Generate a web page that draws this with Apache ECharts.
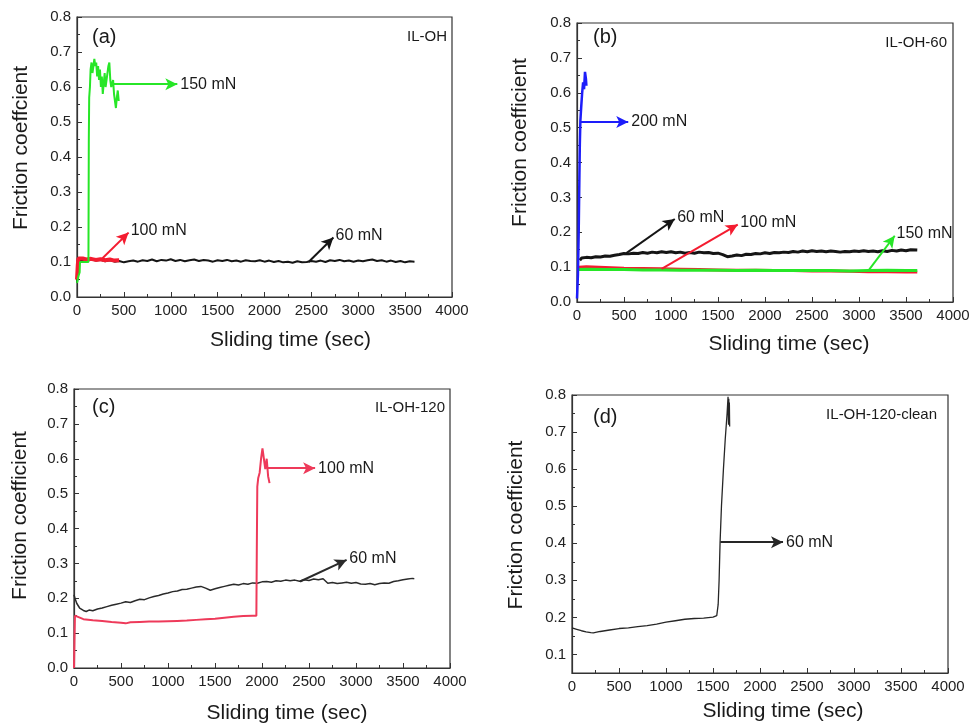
<!DOCTYPE html>
<html>
<head>
<meta charset="utf-8">
<title>Friction coefficient vs sliding time</title>
<script src="https://cdn.jsdelivr.net/npm/echarts@6/dist/echarts.min.js"></script>
<style>
  html, body { margin: 0; padding: 0; background: #ffffff; }
  #chart { width: 971px; height: 725px; }
</style>
</head>
<body>
<div id="chart"></div>
<script>
// ---------- measured friction traces: [sliding time (s), friction coefficient] ----------

// (a) IL-OH
const aBlack60 = [
  [0,0.04],[10,0.08],[20,0.1],[30,0.105],[50,0.106],[100,0.103],[150,0.107],[200,0.104],[250,0.106],
  [300,0.102],[350,0.105],[400,0.101],[450,0.103],[500,0.099],[550,0.102],[600,0.104],[650,0.101],
  [700,0.105],[750,0.103],[800,0.107],[850,0.102],[900,0.106],[950,0.104],[1000,0.108],[1050,0.103],
  [1100,0.106],[1150,0.102],[1200,0.105],[1250,0.107],[1300,0.103],[1350,0.106],[1400,0.104],
  [1450,0.101],[1500,0.105],[1550,0.103],[1600,0.106],[1650,0.102],[1700,0.104],[1750,0.101],
  [1800,0.105],[1850,0.103],[1900,0.102],[1950,0.105],[2000,0.101],[2050,0.104],[2100,0.1],
  [2150,0.103],[2200,0.099],[2250,0.101],[2300,0.098],[2350,0.102],[2400,0.099],[2450,0.1],
  [2500,0.103],[2550,0.101],[2600,0.104],[2650,0.1],[2700,0.105],[2750,0.103],[2800,0.106],
  [2850,0.102],[2900,0.104],[2950,0.101],[3000,0.104],[3050,0.102],[3100,0.105],[3150,0.107],
  [3200,0.103],[3250,0.105],[3300,0.101],[3350,0.104],[3400,0.1],[3450,0.103],[3500,0.099],
  [3550,0.102],[3600,0.101]
];
const aRed100 = [
  [0,0.05],[8,0.09],[15,0.11],[30,0.108],[60,0.11],[100,0.107],[150,0.109],[200,0.106],
  [250,0.108],[300,0.105],[350,0.107],[400,0.104],[450,0.105]
];
const aGreen150 = [
  [0,0.04],[15,0.06],[28,0.07],[32,0.1],[60,0.1],[100,0.1],[122,0.1],[126,0.45],[130,0.57],
  [138,0.6],[145,0.65],[155,0.67],[165,0.64],[175,0.66],[185,0.68],[195,0.66],[205,0.67],
  [215,0.63],[225,0.66],[235,0.62],[245,0.65],[255,0.6],[265,0.63],[275,0.58],[285,0.61],
  [295,0.64],[305,0.6],[315,0.62],[325,0.64],[335,0.66],[345,0.67],[355,0.62],[365,0.6],
  [375,0.61],[385,0.62],[395,0.58],[405,0.56],[415,0.54],[425,0.57],[435,0.59],[445,0.56]
];

// (b) IL-OH-60
const bBlack60 = [
  [30,0.12],[50,0.126],[100,0.128],[150,0.127],[200,0.13],[250,0.129],[300,0.132],[350,0.131],
  [400,0.134],[450,0.136],[500,0.139],[550,0.138],[600,0.14],[650,0.139],[700,0.142],[750,0.14],
  [800,0.143],[850,0.141],[900,0.144],[950,0.142],[1000,0.144],[1050,0.141],[1100,0.143],
  [1150,0.14],[1200,0.142],[1250,0.14],[1300,0.143],[1350,0.141],[1400,0.142],[1450,0.139],
  [1500,0.14],[1550,0.136],[1600,0.13],[1650,0.132],[1700,0.135],[1750,0.133],[1800,0.137],
  [1850,0.136],[1900,0.139],[1950,0.138],[2000,0.141],[2050,0.139],[2100,0.142],[2150,0.141],
  [2200,0.143],[2250,0.142],[2300,0.145],[2350,0.143],[2400,0.146],[2450,0.144],[2500,0.147],
  [2550,0.145],[2600,0.146],[2650,0.144],[2700,0.146],[2750,0.145],[2800,0.143],[2850,0.145],
  [2900,0.144],[2950,0.146],[3000,0.145],[3050,0.147],[3100,0.145],[3150,0.146],[3200,0.144],
  [3250,0.147],[3300,0.145],[3350,0.148],[3400,0.146],[3450,0.149],[3500,0.147],[3550,0.15],
  [3620,0.149]
];
const bRed100 = [
  [20,0.1],[100,0.101],[300,0.099],[500,0.097],[700,0.096],[900,0.095],[1100,0.094],[1300,0.093],
  [1500,0.092],[1700,0.091],[1900,0.091],[2100,0.09],[2300,0.09],[2500,0.089],[2700,0.089],
  [2900,0.088],[3100,0.087],[3300,0.087],[3500,0.086],[3620,0.086]
];
const bGreen150 = [
  [20,0.093],[100,0.094],[300,0.093],[500,0.093],[700,0.092],[900,0.092],[1100,0.091],[1300,0.091],
  [1500,0.091],[1700,0.09],[1900,0.091],[2100,0.09],[2300,0.09],[2500,0.09],[2700,0.09],
  [2900,0.089],[3100,0.09],[3300,0.091],[3500,0.09],[3620,0.09]
];
const bBlue200 = [
  [0,0.01],[10,0.08],[18,0.2],[25,0.35],[30,0.45],[36,0.52],[45,0.56],[55,0.6],[65,0.63],
  [75,0.61],[85,0.66],[95,0.64],[100,0.62]
];

// (c) IL-OH-120
const cBlack60 = [
  [0,0.21],[10,0.2],[30,0.185],[60,0.172],[100,0.165],[130,0.162],[160,0.166],[200,0.164],
  [250,0.169],[300,0.172],[350,0.176],[400,0.18],[450,0.183],[500,0.186],[550,0.19],[600,0.188],
  [650,0.193],[700,0.197],[750,0.196],[800,0.201],[850,0.205],[900,0.208],[950,0.212],[1000,0.215],
  [1050,0.219],[1100,0.221],[1150,0.225],[1200,0.226],[1250,0.229],[1300,0.232],[1350,0.234],
  [1400,0.229],[1450,0.223],[1500,0.227],[1550,0.231],[1600,0.234],[1650,0.237],[1700,0.24],
  [1750,0.238],[1800,0.242],[1850,0.24],[1900,0.244],[1950,0.243],[2000,0.247],[2050,0.248],
  [2100,0.246],[2150,0.25],[2200,0.249],[2250,0.252],[2300,0.25],[2350,0.252],[2400,0.249],
  [2450,0.253],[2500,0.251],[2550,0.255],[2600,0.253],[2650,0.256],[2700,0.243],[2750,0.245],
  [2800,0.242],[2850,0.244],[2900,0.246],[2950,0.243],[3000,0.245],[3050,0.241],[3100,0.24],
  [3150,0.242],[3200,0.239],[3250,0.242],[3300,0.244],[3350,0.243],[3400,0.248],[3450,0.25],
  [3500,0.253],[3550,0.255],[3600,0.257],[3620,0.256]
];
const cRed100 = [
  [0,0.0],[5,0.08],[10,0.15],[30,0.145],[100,0.14],[200,0.137],[300,0.135],[400,0.132],[500,0.13],
  [550,0.128],[600,0.131],[700,0.132],[800,0.133],[900,0.133],[1000,0.134],[1100,0.135],
  [1200,0.136],[1300,0.138],[1400,0.14],[1500,0.141],[1600,0.144],[1700,0.147],[1800,0.149],
  [1900,0.15],[1940,0.15],[1945,0.35],[1950,0.52],[1960,0.545],[1975,0.56],[1990,0.6],
  [2005,0.63],[2020,0.6],[2035,0.57],[2050,0.6],[2065,0.55],[2080,0.53]
];

// (d) IL-OH-120-clean
const dBlack60 = [
  [0,0.172],[50,0.168],[100,0.164],[150,0.161],[200,0.159],[227,0.158],[300,0.162],[400,0.166],
  [500,0.17],[600,0.172],[700,0.175],[800,0.178],[900,0.182],[1000,0.187],[1100,0.191],
  [1200,0.195],[1300,0.197],[1400,0.198],[1500,0.201],[1540,0.205],[1555,0.235],[1565,0.3],
  [1575,0.4],[1590,0.5],[1611,0.6],[1630,0.68],[1650,0.75],[1660,0.795],[1665,0.72],
  [1668,0.79],[1671,0.73],[1674,0.78],[1677,0.715]
];

// axis ticks
const xTicks = [0, 500, 1000, 1500, 2000, 2500, 3000, 3500, 4000];
const yTicksFull = [0, 0.1, 0.2, 0.3, 0.4, 0.5, 0.6, 0.7, 0.8];
const yTicksD = [0.1, 0.2, 0.3, 0.4, 0.5, 0.6, 0.7, 0.8];
const yMinorD = [0.15, 0.25, 0.35, 0.45, 0.55, 0.65, 0.75];

// panel captions and arrow annotations (data coordinates)
const panelTags = ['(a)', '(b)', '(c)', '(d)'];
const sampleNames = ['IL-OH', 'IL-OH-60', 'IL-OH-120', 'IL-OH-120-clean'];
const yTitles = ['Friction coeffcient', 'Friction coefficient', 'Friction coefficient', 'Friction coefficient'];
const xTitle = 'Sliding time (sec)';

const arrowsA = {
  black: { from: [2470, 0.1], to: [2735, 0.17], text: '60 mN' },
  red:   { from: [250, 0.105], to: [550, 0.184], text: '100 mN' },
  green: { from: [390, 0.608], to: [1070, 0.608], text: '150 mN' }
};
const arrowsB = {
  black: { from: [525, 0.14], to: [1040, 0.238], text: '60 mN' },
  red:   { from: [900, 0.095], to: [1710, 0.222], text: '100 mN' },
  green: { from: [3100, 0.09], to: [3380, 0.19], text: '150 mN' },
  blue:  { from: [36, 0.516], to: [545, 0.516], text: '200 mN' }
};
const arrowsC = {
  black: { from: [2405, 0.248], to: [2900, 0.31], text: '60 mN' },
  red:   { from: [2050, 0.573], to: [2565, 0.573], text: '100 mN' }
};
const arrowsD = {
  black: { from: [1578, 0.403], to: [2245, 0.403], text: '60 mN' }
};

// ---------- styling ----------
const FONT = '"Liberation Sans", Arial, Helvetica, sans-serif';
const INK = '#1a1a1a';
const COL = { black: '#151515', red: '#f41c30', redC: '#ee3a5a', green: '#27e627', blue: '#1d1dfa' };

const grids = [
  { left: 77,  top: 17,  width: 375, height: 280 },
  { left: 577, top: 23,  width: 376, height: 279 },
  { left: 74,  top: 389, width: 376, height: 279 },
  { left: 572, top: 395, width: 376, height: 278 }
];
// axis title placement per panel: [y gap, y shift up, x gap, x shift right]
const titleLayout = [
  [45, 9, 33, 26],
  [46, 20, 32, 24],
  [43, 13, 35, 25],
  [45, 9, 28, 23]
];

function arrowMark(a) {
  return {
    silent: true,
    animation: false,
    symbol: ['none', 'arrow'],
    symbolSize: [9, 12],
    lineStyle: { type: 'solid', width: 2 },
    label: {
      show: true, position: 'end', formatter: a.text,
      color: INK, fontSize: 16, fontFamily: FONT,
      align: 'left', verticalAlign: 'middle', distance: 3
    },
    data: [[{ coord: a.from }, { coord: a.to }]]
  };
}

function lineSeries(idx, data, color, width, arrow) {
  const s = {
    type: 'line', xAxisIndex: idx, yAxisIndex: idx, data: data,
    showSymbol: false, symbol: 'none', animation: false, silent: true,
    lineStyle: { color: color, width: width }, itemStyle: { color: color },
    z: 3
  };
  if (arrow) s.markLine = arrowMark(arrow);
  return s;
}

const xAxes = grids.map((g, i) => ({
  type: 'value', gridIndex: i, min: 0, max: 4000, interval: 500,
  name: xTitle, nameLocation: 'middle', nameGap: titleLayout[i][2], nameMoveOverlap: false,
  nameTextStyle: { fontSize: 21, fontFamily: FONT, color: INK, padding: [0, 0, 0, 2 * titleLayout[i][3]] },
  axisLine: { show: true, onZero: false, lineStyle: { color: '#333', width: 1.2 } },
  axisTick: { show: true, inside: true, length: 5, lineStyle: { color: '#333' } },
  minorTick: { show: true, splitNumber: 2, length: 3, lineStyle: { color: '#333' } },
  axisLabel: { fontSize: 15, fontFamily: FONT, color: '#222', margin: 6,
    customValues: xTicks, formatter: v => String(v) },
  splitLine: { show: false }
}));

const yAxes = grids.map((g, i) => {
  const isD = i === 3;
  const ax = {
    type: 'value', gridIndex: i,
    min: isD ? 0.05 : 0, max: 0.8, interval: isD ? 0.05 : 0.1,
    name: yTitles[i], nameLocation: 'middle', nameGap: titleLayout[i][0], nameMoveOverlap: false,
    nameTextStyle: { fontSize: 21, fontFamily: FONT, color: INK, padding: [0, 0, 0, 2 * titleLayout[i][1]] },
    axisLine: { show: true, onZero: false, lineStyle: { color: '#333', width: 1.2 } },
    axisTick: { show: true, inside: true, length: 5, lineStyle: { color: '#333' } },
    minorTick: { show: !isD, splitNumber: 2, length: 3, lineStyle: { color: '#333' } },
    axisLabel: { fontSize: 15, fontFamily: FONT, color: '#222', margin: 6,
      formatter: v => v.toFixed(1) },
    splitLine: { show: false }
  };
  if (isD) {
    ax.axisLabel.customValues = yTicksD;
    ax.axisTick.customValues = yTicksD;
  } else {
    ax.axisLabel.customValues = yTicksFull;
  }
  return ax;
});
// minor ticks for panel (d), whose axis starts at 0.05
yAxes.push({
  type: 'value', gridIndex: 3, min: 0.05, max: 0.8, interval: 0.05, position: 'left',
  axisLine: { show: false },
  axisTick: { show: true, inside: true, length: 3, customValues: yMinorD, lineStyle: { color: '#333' } },
  axisLabel: { show: false }, splitLine: { show: false }
});

const series = [
  // (a)
  lineSeries(0, aBlack60, COL.black, 2, arrowsA.black),
  lineSeries(0, aRed100, COL.red, 4, arrowsA.red),
  lineSeries(0, aGreen150, COL.green, 2, arrowsA.green),
  // (b)
  lineSeries(1, bRed100, COL.red, 3, arrowsB.red),
  lineSeries(1, bGreen150, COL.green, 3, arrowsB.green),
  lineSeries(1, bBlack60, COL.black, 3, arrowsB.black),
  lineSeries(1, bBlue200, COL.blue, 2.5, arrowsB.blue),
  // (c)
  lineSeries(2, cBlack60, '#2a2a2a', 1.5, arrowsC.black),
  lineSeries(2, cRed100, COL.redC, 2, arrowsC.red),
  // (d)
  lineSeries(3, dBlack60, '#262626', 1.3, arrowsD.black)
];

// panel tag (left) and sample name (right) inside each plot
const tagPos = [[92, 37], [593, 37], [92, 407], [593, 417]];
const namePos = [[447, 37], [947, 43], [445, 408], [937, 415]];
const graphics = [];
panelTags.forEach((t, i) => {
  graphics.push({ type: 'text', x: tagPos[i][0], y: tagPos[i][1], z: 10, silent: true,
    style: { text: t, font: '20px ' + FONT, fill: INK, align: 'left', verticalAlign: 'middle' } });
  graphics.push({ type: 'text', x: namePos[i][0], y: namePos[i][1], z: 10, silent: true,
    style: { text: sampleNames[i], font: '15px ' + FONT, fill: INK, align: 'right', verticalAlign: 'middle' } });
});

const chart = echarts.init(document.getElementById('chart'), null, { renderer: 'canvas' });
chart.setOption({
  backgroundColor: '#ffffff',
  animation: false,
  grid: grids.map(g => Object.assign({
    show: true, borderColor: '#333', borderWidth: 1.2, backgroundColor: 'transparent',
    containLabel: false, outerBoundsMode: 'none'
  }, g)),
  xAxis: xAxes,
  yAxis: yAxes,
  series: series,
  graphic: graphics
});
</script>
</body>
</html>
